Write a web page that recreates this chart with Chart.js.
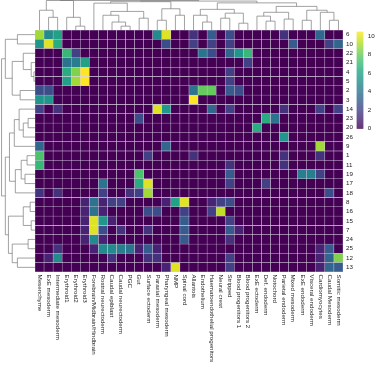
<!DOCTYPE html>
<html>
<head>
<meta charset="utf-8">
<script src="https://cdn.jsdelivr.net/npm/chart.js@4.4.1/dist/chart.umd.min.js"></script>
<style>
  html, body { margin: 0; padding: 0; background: #fff; }
  #wrap { width: 375px; height: 366px; }
</style>
</head>
<body>
<div id="wrap"><canvas id="chart" width="375" height="366"></canvas></div>
<script>
// --- data ---
const colLabels = [
  'Mesenchyme', 'ExE mesoderm', 'Intermediate mesoderm', 'Erythroid1', 'Erythroid2', 'Erythroid3',
  'Forebrain/Midbrain/Hindbrain', 'Rostral neurectoderm', 'Caudal epiblast', 'Caudal neurectoderm',
  'PGC', 'Gut', 'Surface ectoderm', 'Paraxial mesoderm', 'Pharyngeal mesoderm', 'NMP', 'Spinal cord',
  'Allantois', 'Endothelium', 'Haematoendothelial progenitors', 'Neural crest', 'Stripped',
  'Blood progenitors 1', 'Blood progenitors 2', 'ExE ectoderm', 'Def. endoderm', 'Notochord',
  'Parietal endoderm', 'Mixed mesoderm', 'ExE endoderm', 'Visceral endoderm', 'Cardiomyocytes',
  'Caudal Mesoderm', 'Somitic mesoderm'
];
const rowLabels = ['6', '10', '22', '21', '4', '5', '2', '3', '14', '23', '20', '26', '9',
  '1', '11', '19', '17', '18', '8', '16', '15', '7', '24', '25', '12', '13'];

// one row per cluster, one value per cell type (column order above)
const values = [
  [9, 5, 6, 0, 0, 0, 0, 0, 0, 0, 0, 0, 0, 5, 10, 0, 0, 1.5, 0, 3, 0, 2.5, 0, 0, 0, 0, 0, 1.5, 0, 0, 0, 3.5, 0, 0],
  [5.5, 10, 6.5, 0, 0, 0, 0, 0, 0, 0, 0, 0, 0, 0, 2.5, 0, 0, 2, 0, 2, 0, 2, 0, 0, 0, 0, 0, 0, 3, 0, 0, 0, 2, 3.5],
  [0, 0, 0, 7, 2, 0, 0, 0, 0, 0, 0, 0, 0, 0, 0, 0, 0, 0, 4, 2.5, 0, 3.5, 5.5, 7, 0, 0, 0, 0, 0, 0, 0, 0, 0, 0],
  [0, 0, 0, 4, 4.5, 6, 0, 0, 0, 0, 0, 0, 0, 0, 0, 0, 0, 0, 0, 0, 0, 0, 0, 2, 0, 0, 0, 0, 0, 0, 0, 0, 0, 0],
  [0, 0, 0, 6.5, 8.5, 10.5, 0, 0, 0, 0, 0, 0, 0, 0, 0, 0, 0, 0, 0, 0, 0, 2, 0, 0, 0, 0, 0, 0, 0, 0, 0, 0, 0, 0],
  [0, 0, 0, 6, 9, 10.5, 0, 0, 0, 0, 0, 0, 0, 0, 0, 0, 0, 0, 0, 0, 0, 2, 0, 0, 0, 0, 0, 0, 0, 0, 0, 0, 0, 0],
  [2.5, 2.5, 0, 0, 0, 0, 0, 0, 0, 0, 0, 0, 0, 0, 0, 0, 0, 4, 8, 8, 0, 3, 2.5, 0, 0, 0, 0, 0, 0, 0, 0, 0, 0, 0],
  [5.5, 5.5, 0, 0, 0, 0, 0, 0, 0, 0, 0, 0, 0, 0, 0, 0, 0, 10.5, 0, 0, 0, 0, 0, 0, 0, 0, 0, 0, 0, 0, 0, 0, 0, 0],
  [2, 0, 1.5, 0, 0, 0, 0, 0, 0, 0, 0, 0, 0, 10, 5.5, 0, 0, 0, 0, 3.5, 0, 2, 0, 0, 0, 0, 0, 1.5, 0, 0, 0, 2, 0, 2],
  [0, 0, 0, 0, 0, 0, 0, 0, 0, 0, 0, 2.5, 0, 0, 0, 0, 0, 0, 0, 0, 0, 0, 0, 0, 0, 6.5, 4, 0, 0, 0, 0, 0, 0, 0],
  [0, 0, 0, 0, 0, 0, 0, 0, 0, 0, 0, 0, 0, 0, 0, 0, 0, 0, 0, 0, 0, 0, 0, 0, 6.5, 0, 0, 0, 0, 0, 0, 0, 0, 0],
  [0, 0, 0, 0, 0, 0, 0, 0, 0, 0, 0, 0, 0, 0, 0, 0, 0, 0, 0, 0, 0, 0, 0, 0, 0, 0, 0, 5.5, 0, 0, 0, 0, 0, 0],
  [3.5, 0, 0, 0, 0, 0, 0, 0, 0, 0, 0, 0, 0, 0, 3.5, 0, 0, 0, 0, 0, 0, 0, 0, 0, 0, 0, 0, 0, 0, 0, 0, 9, 0, 0],
  [7.5, 0, 0, 0, 0, 0, 0, 0, 0, 0, 0, 0, 2, 0, 0, 0, 0, 1.5, 0, 0, 0, 0, 0, 0, 0, 0, 0, 1.5, 0, 0, 0, 1.5, 0, 0],
  [7, 0, 0, 0, 0, 0, 0, 0, 0, 0, 0, 0, 0, 0, 0, 0, 0, 0, 0, 0, 0, 1.5, 0, 0, 0, 0, 0, 1.5, 0, 0, 0, 0, 0, 0],
  [0, 0, 0, 0, 0, 0, 0, 0, 0, 0, 0, 7.5, 0, 0, 0, 0, 0, 0, 0, 0, 0, 3, 0, 0, 0, 0, 0, 0, 0, 4.5, 4.5, 2, 0, 0],
  [0, 0, 0, 0, 0, 0, 0, 4, 0, 0, 0, 6.5, 10, 0, 0, 0, 0, 0, 0, 0, 0, 2, 0, 0, 0, 2, 0, 0, 0, 0, 0, 0, 0, 0],
  [1.5, 0, 1.5, 0, 0, 0, 0, 2, 0, 0, 1.5, 2, 9, 0, 0, 0, 0, 0, 0, 0, 0, 0, 0, 0, 0, 0, 0, 0, 0, 0, 0, 0, 2.5, 0],
  [0, 0, 0, 0, 0, 1, 4, 1, 2, 2, 0, 0, 0, 0, 1, 6, 10, 0, 0, 1, 2, 2.5, 0, 0, 0, 0, 0, 0, 0, 0, 0, 0, 0, 0],
  [0, 0, 0, 0, 0, 1, 4, 1, 0, 0, 0, 0, 2.5, 2.5, 0, 0, 2, 0, 0, 2, 9.5, 0, 0, 0, 0, 0, 0, 0, 0, 0, 0, 0, 0, 0],
  [0, 0, 0, 0, 0, 1, 10, 5.5, 1, 0, 0, 0, 0, 0, 0, 0, 3, 0, 0, 0, 0, 2, 0, 0, 0, 0, 0, 0, 0, 0, 0, 0, 0, 0],
  [0, 0, 0, 0, 0, 1, 10, 2.5, 0, 1.5, 0, 0, 1.5, 0, 0, 0, 3, 0, 0, 0, 0, 3, 1, 0, 0, 0, 0, 0, 0, 0, 0, 0, 0, 0],
  [0, 0, 0, 0, 0, 1, 5, 1, 0, 0, 0, 0, 0, 0, 0, 0, 3, 0, 0, 0, 0, 1.5, 0, 0, 0, 0, 0, 0, 0, 0, 0, 0, 0, 0],
  [0, 0, 1.5, 0, 0, 0, 1, 5, 5, 4.5, 4, 1, 3, 1, 0, 0, 0, 0, 0, 0, 0, 0, 0, 0, 0, 0, 0, 0, 0, 0, 0, 1, 3, 0],
  [0, 1, 5, 0, 0, 0, 0, 0, 1.5, 0, 0, 0, 1.5, 1.5, 0, 0, 0, 0, 0, 0, 0, 2, 0, 0, 0, 0, 0, 0, 0, 0, 0, 1, 3.5, 8.5],
  [0, 0, 0, 0, 0, 0, 0, 0, 0, 0, 0, 0, 0, 0, 1, 10, 0, 0, 0, 0, 0, 2, 0, 0, 0, 0, 0, 0, 0, 0, 0, 1, 3.5, 3]
];

const colorTicks = [0, 2, 4, 6, 8, 10];
const colorMax = 10.5;

// dendrograms: node = leaf index or [left, right, height]; height 0..100 (100 = outer edge)
const colTree = [
  [[0, [1, 2, 43], 67], [3, [4, 5, 13], 43], 100],
  [
    [[6, [[7, [8, [9, 10, 13], 27], 50], [11, 12, 40], 63], 91],
     [[13, 14, 33], [15, 16, 50], 72], 96],
    [[[17, [18, 19, 27], 50], [[20, 21, 40], [22, 23, 23], 57], 70],
     [[[24, [25, 26, 30], 47], [27, 28, 37], 60], [[29, 30, 33], [31, [32, 33, 33], 60], 67], 80], 92],
    98],
  100
];
const rowTree = [
  [[0, 1, 51], [[2, [3, [4, 5, 3], 11], 34], [6, 7, 43], 66], 86],
  [
    [[[8, [[9, 10, 20], 11, 34], 46], 12, 60],
     [[[13, 14, 23], [15, 16, 29], 40], 17, 57], 74],
    [[[18, 19, 14], [20, 21, 11], 34], [[22, 23, 20], [24, 25, 51], 66], 77],
    86],
  97
];

// --- helpers ---
const VIRIDIS = ['#440154', '#482475', '#414487', '#355f8d', '#2a788e', '#21918c',
  '#22a884', '#44bf70', '#7ad151', '#bddf26', '#fde725'];
function hexRgb(h) { return [1, 3, 5].map(i => parseInt(h.slice(i, i + 2), 16)); }
function viridis(t) {
  t = Math.max(0, Math.min(1, t)) * (VIRIDIS.length - 1);
  const i = Math.min(Math.floor(t), VIRIDIS.length - 2);
  const f = t - i;
  const a = hexRgb(VIRIDIS[i]), b = hexRgb(VIRIDIS[i + 1]);
  return `rgb(${a.map((v, k) => Math.round(v + (b[k] - v) * f)).join(',')})`;
}

const cells = [];
values.forEach((row, r) => row.forEach((v, c) => cells.push({ x: colLabels[c], y: [r, r + 1], v })));

const FONT = '"Liberation Sans", Arial, Helvetica, sans-serif';

// draws one dendrogram node, returns [position, height]
function drawTree(ctx, node, leafPos, toPx) {
  if (!Array.isArray(node)) return [leafPos(node), 0];
  const [l, r, h] = node;
  const a = drawTree(ctx, l, leafPos, toPx);
  const b = drawTree(ctx, r, leafPos, toPx);
  ctx.beginPath();
  ctx.moveTo(...toPx(a[0], a[1]));
  ctx.lineTo(...toPx(a[0], h));
  ctx.lineTo(...toPx(b[0], h));
  ctx.lineTo(...toPx(b[0], b[1]));
  ctx.stroke();
  return [(a[0] + b[0]) / 2, h];
}

const decor = {
  id: 'decor',
  afterDraw(chart) {
    const { ctx, chartArea: a, scales: { x, y } } = chart;
    ctx.save();
    ctx.fillStyle = '#1a1a1a';
    ctx.font = `6.2px ${FONT}`;

    // row labels (right)
    ctx.textAlign = 'left';
    ctx.textBaseline = 'middle';
    rowLabels.forEach((t, r) => ctx.fillText(t, a.right + 3, y.getPixelForValue(r + 0.5)));

    // column labels (rotated, reading downward)
    colLabels.forEach((t, c) => {
      ctx.save();
      ctx.translate(x.getPixelForValue(c), a.bottom + 2.5);
      ctx.rotate(Math.PI / 2);
      ctx.fillText(t, 0, 0);
      ctx.restore();
    });

    // dendrograms
    ctx.strokeStyle = '#7a7a7a';
    ctx.lineWidth = 0.7;
    drawTree(ctx, colTree, i => x.getPixelForValue(i),
      (p, h) => [p, a.top - (h / 100) * (a.top - 0.5)]);
    drawTree(ctx, rowTree, i => y.getPixelForValue(i + 0.5),
      (p, h) => [a.left - (h / 100) * (a.left - 0.5), p]);

    // colour bar
    const cbL = a.right + 13.7, cbW = 6.6;
    const cbTop = a.top + 1.7, cbH = a.height * 0.4;
    const vy = v => cbTop + cbH - (v / colorMax) * cbH;
    for (let i = 0; i < cbH; i += 0.5) {
      ctx.fillStyle = viridis(1 - i / cbH);
      ctx.fillRect(cbL, cbTop + i, cbW, 0.6);
    }
    ctx.fillStyle = '#1a1a1a';
    colorTicks.forEach(v => ctx.fillText(String(v), cbL + cbW + 4.5, vy(v)));
    ctx.restore();
  }
};

new Chart(document.getElementById('chart'), {
  type: 'bar',
  data: {
    labels: colLabels,
    datasets: [{
      data: cells,
      backgroundColor: c => viridis((c.raw ? c.raw.v : 0) / colorMax),
      borderColor: 'rgba(214, 202, 226, 0.95)',
      borderWidth: 0.5,
      borderSkipped: false,
      barPercentage: 1,
      categoryPercentage: 1
    }]
  },
  options: {
    responsive: false,
    devicePixelRatio: 1,
    animation: false,
    layout: { padding: { left: 35, top: 30, right: 32, bottom: 94 } },
    plugins: { legend: { display: false }, tooltip: { enabled: false } },
    scales: {
      x: { type: 'category', display: false, offset: true, grid: { display: false } },
      y: { type: 'linear', display: false, min: 0, max: rowLabels.length, reverse: true }
    }
  },
  plugins: [decor]
});
</script>
</body>
</html>
